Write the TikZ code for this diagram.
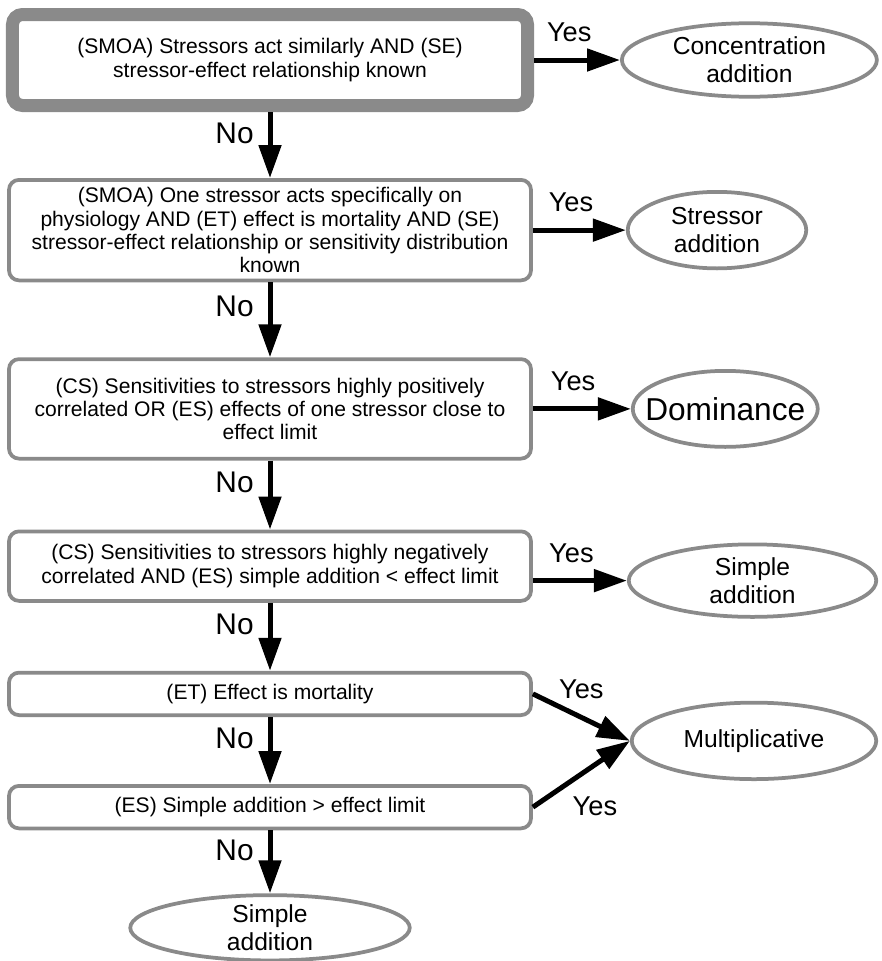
\documentclass[tikz,border=0pt]{standalone}
\usepackage{fontspec}
\setmainfont{Liberation Sans}
\usetikzlibrary{positioning,shapes.geometric,arrows.meta}

\definecolor{framegray}{RGB}{138,138,138}

\tikzset{
    question/.style = {draw=framegray, line width=0.075cm, rounded corners=0.2cm, fill=white,
        align=center, inner sep=0pt, minimum width=10.44cm, font=\fontsize{12}{13.2}\selectfont},
    firstq/.style = {question, line width=0.26cm, minimum width=10.30cm},
    outcome/.style = {ellipse, draw=framegray, line width=0.075cm, fill=white, align=center,
        inner sep=0pt, font=\fontsize{14}{16}\selectfont},
    flow/.style = {line width=0.1cm, -{Triangle[length=0.66cm,width=0.44cm]}},
    yeslabel/.style = {font=\fontsize{15.5}{18}\selectfont},
    nolabel/.style = {font=\fontsize{17}{19}\selectfont, left=0.16cm, pos=0.32},
}

\begin{document}
\begin{tikzpicture}
    \useasboundingbox (0,0) rectangle (17.64,-19.22) ;

    \node[firstq, minimum height=1.82cm] (smoa) at (5.4,-1.2) {(SMOA) Stressors act similarly AND (SE)\\stressor-effect relationship known} ;
    \node[outcome, minimum width=5.10cm, minimum height=1.47cm, right = 1.72cm of smoa] (conc) {Concentration\\addition} ;

    \node[question, minimum height=2.01cm, below = 1.32cm of smoa] (physio) {(SMOA) One stressor acts specifically on\\physiology AND (ET) effect is mortality AND (SE)\\stressor-effect relationship or sensitivity distribution\\known} ;
    \node[outcome, minimum width=3.57cm, minimum height=1.53cm, right = 1.86cm of physio] (stradd) {Stressor\\addition} ;

    \node[question, minimum height=1.99cm, below = 1.50cm of physio] (cspos) {(CS) Sensitivities to stressors highly positively\\correlated OR (ES) effects of one stressor close to\\effect limit} ;
    \node[outcome, minimum width=3.70cm, minimum height=1.52cm, inner xsep=-0.36cm, font=\fontsize{18}{20}\selectfont, right = 1.96cm of cspos] (domin) {Dominance} ;

    \node[question, minimum height=1.39cm, below = 1.38cm of cspos] (csneg) {(CS) Sensitivities to stressors highly negatively\\correlated AND (ES) simple addition < effect limit} ;
    \node[outcome, minimum width=4.95cm, minimum height=1.45cm, right = 1.88cm of csneg, yshift=-0.29cm] (simpadd) {Simple\\addition} ;

    \node[question, minimum height=0.85cm, below = 1.36cm of csneg] (mort) {(ET) Effect is mortality} ;
    \node[question, minimum height=0.85cm, below = 1.34cm of mort] (abovelim) {(ES) Simple addition > effect limit} ;
    \node[outcome, minimum width=4.89cm, minimum height=1.53cm, right = 1.94cm of mort, yshift=-0.94cm] (mult) {Multiplicative} ;

    \node[outcome, minimum width=5.59cm, minimum height=1.29cm, below = 1.26cm of abovelim] (lastadd) {Simple\\addition} ;

    \draw[flow] (smoa.east) -- node[yeslabel, above=0.2cm, pos=0.41] {Yes} (conc.west) ;
    \draw[flow] (physio.east) -- node[yeslabel, above=0.2cm, pos=0.41] {Yes} (stradd.west) ;
    \draw[flow] (cspos.east) -- node[yeslabel, above=0.2cm, pos=0.41] {Yes} (domin.west) ;
    \draw[flow] (csneg.east |- simpadd.west) -- node[yeslabel, above=0.2cm, pos=0.41] {Yes} (simpadd.west) ;
    \draw[flow] (mort.east) -- node[yeslabel, above=0.2cm, pos=0.5] {Yes} (mult.west) ;
    \draw[flow] (abovelim.east) -- node[yeslabel, below=0.48cm, pos=0.64] {Yes} (mult.west) ;

    \draw[flow] (smoa.south) -- node[nolabel] {No} (physio.north) ;
    \draw[flow] (physio.south) -- node[nolabel] {No} (cspos.north) ;
    \draw[flow] (cspos.south) -- node[nolabel] {No} (csneg.north) ;
    \draw[flow] (csneg.south) -- node[nolabel] {No} (mort.north) ;
    \draw[flow] (mort.south) -- node[nolabel] {No} (abovelim.north) ;
    \draw[flow] (abovelim.south) -- node[nolabel] {No} (lastadd.north) ;
\end{tikzpicture}
\end{document}
